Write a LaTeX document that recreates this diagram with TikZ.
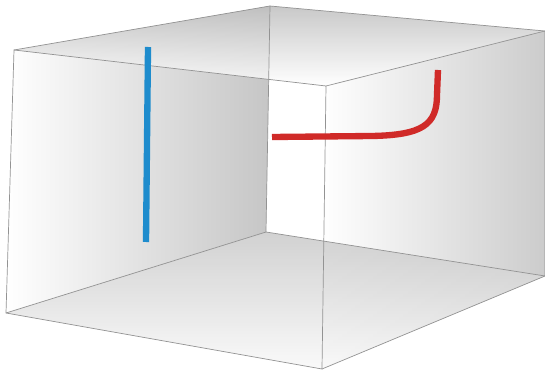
\documentclass[tikz,border=0pt]{standalone}
\definecolor{rodblue}{RGB}{30,140,205}
\definecolor{rodred}{RGB}{208,42,40}
\begin{document}
\begin{tikzpicture}[x=0.02cm, y=-0.02cm,
    edge/.style={draw=gray!85, line width=0.4pt},
    face/.style={opacity=0.85},
    rod/.style={line width=3.6pt}]
  \useasboundingbox (0,0) rectangle (545,371);
  % corners of the box
  \coordinate (ftl) at (14,50);
  \coordinate (ftr) at (326,86);
  \coordinate (fbr) at (322,369);
  \coordinate (fbl) at (6,313);
  \coordinate (bt) at (270,6);
  \coordinate (bb) at (266,232);
  \coordinate (rt) at (545,31);
  \coordinate (rb) at (545,276);

  % walls, ceiling and floor
  \shade[left color=white, right color=gray!45] (ftl) -- (bt) -- (bb) -- (fbl) -- cycle;
  \shade[left color=white, right color=gray!40] (ftr) -- (rt) -- (rb) -- (fbr) -- cycle;
  \shade[face, top color=gray!50, bottom color=white] (ftl) -- (bt) -- (rt) -- (ftr) -- cycle;
  \shade[face, top color=gray!42, bottom color=gray!5] (fbl) -- (bb) -- (rb) -- (fbr) -- cycle;

  % edges
  \draw[edge] (ftl) -- (ftr) -- (fbr) -- (fbl) -- cycle;
  \draw[edge] (bt) -- (rt) -- (rb) -- (bb) -- cycle;
  \draw[edge] (ftl) -- (bt);
  \draw[edge] (ftr) -- (rt);
  \draw[edge] (fbr) -- (rb);
  \draw[edge] (fbl) -- (bb);

  % the two rods
  \coordinate (blueA) at (148,47);
  \coordinate (blueB) at (146,242);
  \draw[rod, rodblue] (blueA) -- (blueB);

  \coordinate (redA) at (272,137);
  \coordinate (redB) at (438,70);
  \draw[rod, rodred] (redA) -- (372,136) .. controls (422,135) and (437,125) .. (437,95) -- (redB);
\end{tikzpicture}
\end{document}
